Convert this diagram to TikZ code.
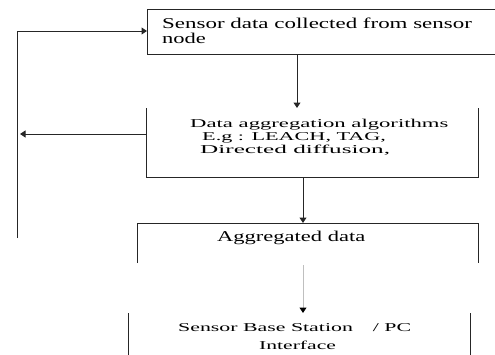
\documentclass[tikz,border=0pt]{standalone}
\usepackage{fontspec}
\setmainfont{Liberation Serif}
\usetikzlibrary{arrows.meta}
\begin{document}
\begin{tikzpicture}[x=1pt,y=-1pt,
  edge/.style={line width=1pt, draw=black!85},
  arr/.style={edge, -{Triangle[width=7pt,length=5.5pt]}},
  grayarr/.style={line width=1pt, draw=black!25, -{Triangle[width=7pt,length=5.5pt,color=black]}},
  frame/.style={inner sep=0pt, outer sep=0pt, draw=none},
  big/.style={font=\fontsize{15}{18}\selectfont, inner sep=0pt, anchor=base west, text=black},
  small/.style={font=\fontsize{12}{14}\selectfont, inner sep=0pt, anchor=base west, text=black}]
\useasboundingbox (0,0) rectangle (495,354);

% box outlines (open-sided frames)
\node[frame, minimum width=348pt, minimum height=45pt] (b1) at (321,31.5) {};
\node[frame, minimum width=332pt, minimum height=69pt] (b2) at (312,142.5) {};
\node[frame, minimum width=341pt, minimum height=40pt] (b3) at (307.5,243) {};
\node[frame, minimum width=342pt, minimum height=43pt] (b4) at (299,334.5) {};

\draw[edge] (b1.north east) -- (b1.north west) -- (b1.south west) -- (b1.south east);
\draw[edge] (b2.north west) -- (b2.south west) -- (b2.south east) -- (b2.north east);
\draw[edge] (b3.south west) -- (b3.north west) -- (b3.north east) -- (b3.south east);
\draw[edge] (b4.south west) -- (b4.north west);
\draw[edge] (b4.north east) -- (b4.south east);

% texts
\node[big] (t1a) at (162,28) {\scalebox{1.53}[1]{Sensor data collected from sensor}};
\node[big] (t1b) at (162,43) {\scalebox{1.5}[1]{node}};
\node[small] (t2a) at (190,127) {\scalebox{1.89}[1]{Data aggregation algorithms}};
\node[small] (t2b) at (202,140) {\scalebox{1.85}[1]{E.g : LEACH, TAG,}};
\node[small] (t2c) at (200,153) {\scalebox{2.1}[1]{Directed diffusion,}};
\node[big] (t3) at (217,241) {\scalebox{1.5}[1]{Aggregated data}};
\node[small] (t4a) at (178,331) {\scalebox{1.82}[1]{Sensor Base Station\hspace{11pt}/ PC}};
\node[small] (t4b) at (259,349) {\scalebox{1.8}[1]{Interface}};

% connector columns and loop points
\coordinate (colA) at (297,0);
\coordinate (colB) at (303,0);
\coordinate (loopTop) at (17,31);
\coordinate (loopBot) at (17,238);
\coordinate (fbTip) at (20,134);

% main flow
\draw[arr] (b1.south -| colA) -- (b2.north -| colA);
\draw[arr] (b2.south -| colB) -- (b3.north -| colB);
\draw[grayarr, shorten <=2pt] (b3.south -| colB) -- (b4.north -| colB);

% feedback loop
\draw[arr] (loopBot) -- (loopTop) -- (loopTop -| b1.west);
\draw[arr] (b2.west |- fbTip) -- (fbTip);
\end{tikzpicture}
\end{document}
